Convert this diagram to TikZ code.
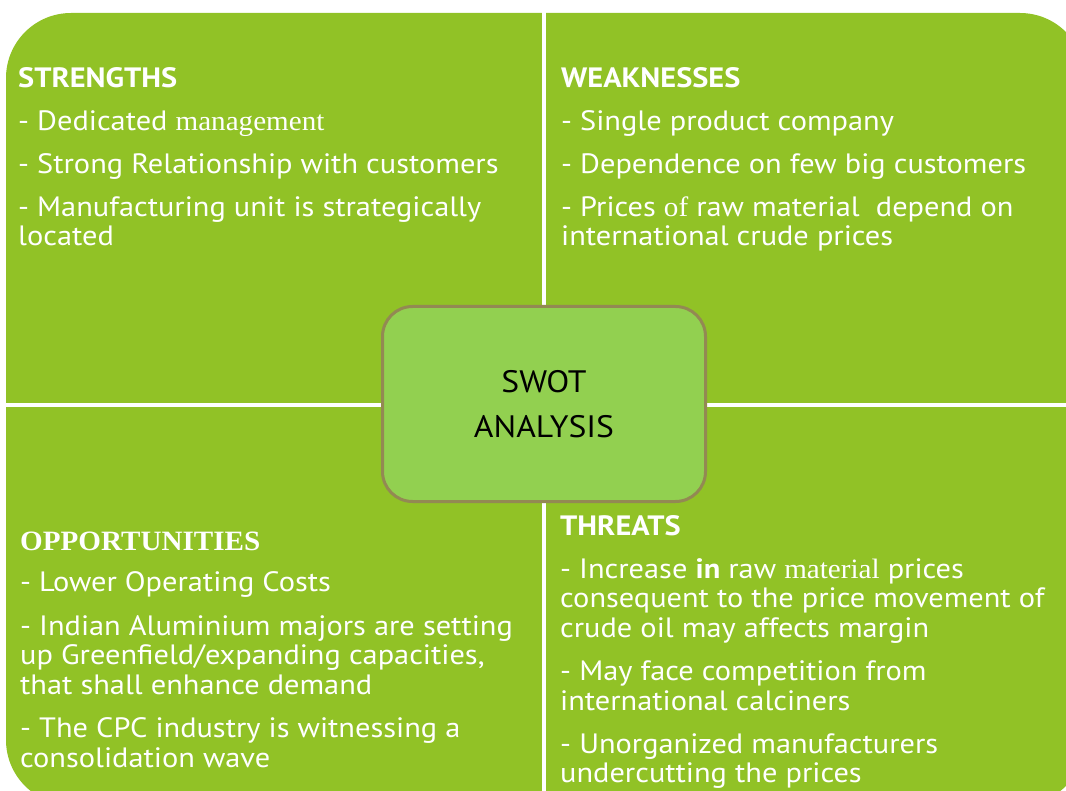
\documentclass[tikz,border=0pt]{standalone}
\usepackage{fontspec}
\setmainfont{PT Sans}[FakeStretch=1.085]
\newfontfamily\timesfont{Liberation Serif}[FakeStretch=1.04]
\usetikzlibrary{positioning}
\definecolor{quadgreen}{RGB}{145,194,38}
\definecolor{boxgreen}{RGB}{146,208,80}
\definecolor{boxborder}{RGB}{147,137,83}

\tikzset{
  quadtext/.style={text=white, align=left, anchor=north west, inner sep=0pt,
    font=\fontsize{28}{29.5}\selectfont},
  swotbox/.style={draw=boxborder, line width=3pt, fill=boxgreen, rounded corners=30pt,
    minimum width=323pt, minimum height=195pt, align=center,
    font=\fontsize{31}{45}\selectfont}
}

\begin{document}
\begin{tikzpicture}[x=1pt,y=-1pt]
    \useasboundingbox (0,0) rectangle (1066,791);
    \clip (0,0) rectangle (1066,791);
    % the four quadrants
    \fill[quadgreen, rounded corners=65pt] (6,13) rectangle (1085,805);
    \draw[white, line width=4pt] (543.5,0) -- (543.5,791);
    \draw[white, line width=4pt] (0,405) -- (1066,405);

    \node[quadtext] (str) at (18,67) {\textbf{STRENGTHS}\\[13.5pt]
      - Dedicated {\timesfont management}\\[13.5pt]
      - Strong Relationship with customers\\[13.5pt]
      - Manufacturing unit is strategically\\located};

    \node[quadtext] (weak) at (561,67) {\textbf{WEAKNESSES}\\[13.5pt]
      - Single product company\\[13.5pt]
      - Dependence on few big customers\\[13.5pt]
      - Prices {\timesfont of} raw material\ \ depend on\\international crude prices};

    \node[quadtext] (opp) at (20,532) {{\timesfont\bfseries OPPORTUNITIES}\\[11.5pt]
      - Lower Operating Costs\\[14pt]
      - Indian Aluminium majors are setting\\up Greenfield/expanding capacities,\\that shall enhance demand\\[14pt]
      - The CPC industry is witnessing a\\consolidation wave};

    \node[quadtext] (thr) at (560,515) {\textbf{THREATS}\\[13.5pt]
      - Increase \textbf{in} raw {\timesfont material} prices\\consequent to the price movement of\\crude oil may affects margin\\[14pt]
      - May face competition from\\international calciners\\[13.5pt]
      - Unorganized manufacturers\\undercutting the prices};

    % centre
    \node[swotbox] (swot) at (544,404) {SWOT\\ANALYSIS};
\end{tikzpicture}
\end{document}
